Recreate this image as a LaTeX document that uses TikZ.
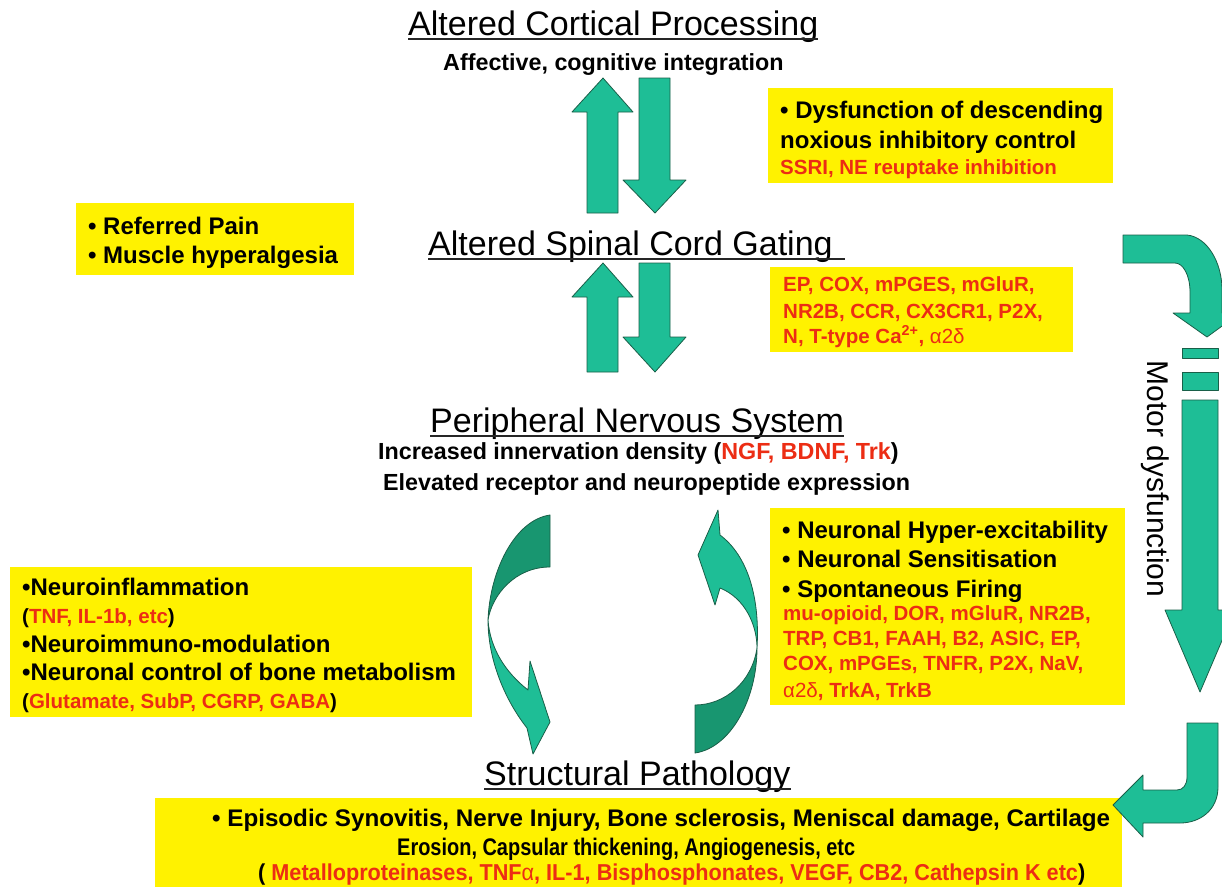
\documentclass[tikz,border=0pt]{standalone}
\usepackage{fontspec}
\setmainfont{Liberation Sans}
\usepackage{graphicx}
\definecolor{myred}{RGB}{236,45,20}
\definecolor{tealA}{RGB}{30,190,150}
\definecolor{tealB}{RGB}{24,150,112}
\definecolor{tealE}{RGB}{25,95,72}
\begin{document}
\begin{tikzpicture}[x=1pt,y=-1pt,
  tl/.style={inner sep=0, anchor=base west, font=\fontsize{34}{40}\selectfont},
  bk/.style={inner sep=0, anchor=base west, font=\fontsize{24}{28}\selectfont\bfseries},
  bks/.style={inner sep=0, anchor=base west, font=\fontsize{23.3}{28}\selectfont\bfseries},
  bkb/.style={inner sep=0, anchor=base west, font=\fontsize{24}{28}\selectfont\bfseries},
  rd/.style={inner sep=0, anchor=base west, text=myred, font=\fontsize{20.5}{24}\selectfont\bfseries},
  rdb/.style={inner sep=0, anchor=base west, text=myred, font=\fontsize{23}{26}\selectfont\bfseries},
  ybox/.style={fill=yellow, draw=none, inner sep=0, anchor=north west},
  uline/.style={line width=1.8pt, black!85},
  arr/.style={fill=tealA, draw=tealE, line width=0.8pt, line join=round},
  arrd/.style={fill=tealB, draw=tealE, line width=0.8pt, line join=round}]
\useasboundingbox (0,0) rectangle (1222,886);
\clip (0,0) rectangle (1222,886);
\fill[white] (0,0) rectangle (1222,886);

% yellow boxes
\node[ybox, minimum width=345pt, minimum height=95pt] (box1) at (768,88) {};
\node[ybox, minimum width=278pt, minimum height=72pt] (box2) at (76,203) {};
\node[ybox, minimum width=303pt, minimum height=85pt] (box3) at (770,267) {};
\node[ybox, minimum width=355pt, minimum height=197pt] (box4) at (770,508) {};
\node[ybox, minimum width=462pt, minimum height=150pt] (box5) at (10,567) {};
\node[ybox, minimum width=967pt, minimum height=100pt] (box6) at (155,798) {};

% titles
\node[tl] (t1) at (408,35) {Altered Cortical Processing};
\draw[uline] ([yshift=-4pt]t1.base west) -- ([yshift=-4pt]t1.base east);
\node[bks] (t1s) at (443,70) {Affective, cognitive integration};
\node[tl] (t2) at (428,255) {Altered Spinal Cord Gating};
\draw[uline] ([yshift=-4pt]t2.base west) -- ([xshift=12pt,yshift=-4pt]t2.base east);
\node[tl] (t3) at (430,432) {Peripheral Nervous System};
\draw[uline] ([yshift=-4pt]t3.base west) -- ([yshift=-4pt]t3.base east);
\node[bks] (t3a) at (378,459) {Increased innervation density (\textcolor{myred}{NGF, BDNF, Trk})};
\node[bks] (t3b) at (383,490) {Elevated receptor and neuropeptide expression};
\node[tl] (t4) at (484,785) {Structural Pathology};
\draw[uline] ([yshift=-4pt]t4.base west) -- ([yshift=-4pt]t4.base east);

% box 1
\node[bk] (b1a) at (780,118) {• Dysfunction of descending};
\node[bk] (b1b) at (780,148) {noxious inhibitory control};
\node[rd] (b1c) at (780,174) {SSRI, NE reuptake inhibition};
% box 2
\node[bk] (b2a) at (88,234) {• Referred Pain};
\node[bk] (b2b) at (88,263) {• Muscle hyperalgesia};
% box 3
\node[rd] (b3a) at (783,291) {EP, COX, mPGES, mGluR,};
\node[rd] (b3b) at (783,318) {NR2B, CCR, CX3CR1, P2X,};
\node[rd] (b3c) at (783,343) {N, T-type Ca\textsuperscript{2+}, {\mdseries α2δ}};
% box 4
\node[bk] (b4a) at (782,538) {• Neuronal Hyper-excitability};
\node[bk] (b4b) at (782,567) {• Neuronal Sensitisation};
\node[bk] (b4c) at (782,597) {• Spontaneous Firing};
\node[rd] (b4d) at (783,620) {mu-opioid, DOR, mGluR, NR2B,};
\node[rd] (b4e) at (783,645) {TRP, CB1, FAAH, B2, ASIC, EP,};
\node[rd] (b4f) at (783,670) {COX, mPGEs, TNFR, P2X, NaV,};
\node[rd] (b4g) at (783,697) {{\mdseries α2δ}, TrkA, TrkB};
% box 5
\node[bk] (b5a) at (22,595) {•Neuroinflammation};
\node[rd] (b5b) at (22,623) {\textcolor{black}{(}TNF, IL-1b, etc\textcolor{black}{)}};
\node[bk] (b5c) at (22,652) {•Neuroimmuno-modulation};
\node[bk] (b5d) at (22,680) {•Neuronal control of bone metabolism};
\node[rd] (b5e) at (22,708) {\textcolor{black}{(}Glutamate, SubP, CGRP, GABA\textcolor{black}{)}};
% box 6
\node[bkb] (b6a) at (212,826) {\resizebox{898pt}{\height}{• Episodic Synovitis, Nerve Injury, Bone sclerosis, Meniscal damage, Cartilage}};
\node[bkb] (b6b) at (397,855) {\resizebox{458pt}{\height}{Erosion, Capsular thickening, Angiogenesis, etc}};
\node[rdb] (b6c) at (258,880) {\resizebox{827pt}{\height}{\textcolor{black}{(} Metalloproteinases, TNF{\mdseries α}, IL-1, Bisphosphonates, VEGF, CB2, Cathepsin K etc\textcolor{black}{)}}};

% vertical double arrows
\draw[arr] (587,213) -- (587,112) -- (572,112) -- (603,78) -- (633,112) -- (618,112) -- (618,213) -- cycle;
\draw[arr] (639,78) -- (670,78) -- (670,180) -- (686,180) -- (655,213) -- (623,180) -- (639,180) -- cycle;
\draw[arr] (587,372) -- (587,297) -- (572,297) -- (603,263) -- (633,297) -- (618,297) -- (618,372) -- cycle;
\draw[arr] (639,263) -- (670,263) -- (670,337) -- (686,337) -- (655,372) -- (623,337) -- (639,337) -- cycle;

% left curved arrow
\draw[arrd] (550,515) .. controls (515,520) and (490,570) .. (488,620)
  .. controls (492,595) and (515,567) .. (550,567) -- cycle;
\draw[arr] (488,620) .. controls (488,660) and (505,700) .. (527,728) -- (533,754) -- (550,722)
  -- (530,661) -- (528,690) .. controls (505,672) and (490,648) .. (488,620) -- cycle;

% right curved arrow
\draw[arr] (718,510) -- (698,555) -- (715,605) -- (720,588)
  .. controls (745,598) and (757,625) .. (757,648)
  .. controls (760,598) and (748,556) .. (720,535) -- cycle;
\draw[arrd] (757,648) .. controls (757,700) and (730,748) .. (695,753) -- (695,705)
  .. controls (725,705) and (752,682) .. (757,648) -- cycle;

% top right bent arrow
\draw[arr] (1123,235) -- (1187,235) .. controls (1207,237) and (1222,262) .. (1222,290) -- (1222,313)
  -- (1240,313) -- (1207,337) -- (1173,313) -- (1190,313) -- (1190,292)
  .. controls (1190,275) and (1183,263) .. (1175,263) -- (1123,263) -- cycle;

% motor dysfunction striped arrow
\draw[arr] (1182,348) rectangle (1218,358);
\draw[arr] (1182,372) rectangle (1218,390);
\draw[arr] (1182,400) -- (1182,610) -- (1165,610) -- (1200,692) -- (1235,610) -- (1218,610) -- (1218,400) -- cycle;
\node[rotate=-90, inner sep=0, font=\fontsize{30}{36}\selectfont] (md) at (1155,479) {Motor dysfunction};

% bottom right bent arrow
\draw[arr] (1187,723) -- (1218,723) -- (1218,787) .. controls (1218,810) and (1200,823) .. (1180,823)
  -- (1143,823) -- (1143,837) -- (1113,805) -- (1143,775) -- (1143,790) -- (1177,790)
  .. controls (1183,790) and (1187,785) .. (1187,777) -- cycle;
\end{tikzpicture}
\end{document}
